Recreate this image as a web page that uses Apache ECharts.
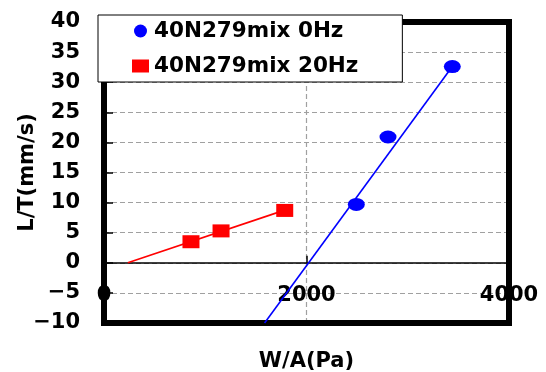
<!DOCTYPE html>
<html>
<head>
<meta charset="utf-8">
<script src="https://cdn.jsdelivr.net/npm/echarts@6/dist/echarts.min.js"></script>
<style>html,body{margin:0;padding:0;background:#fff}#c{width:546px;height:372px}</style>
</head>
<body>
<div id="c"></div>
<script>
var seriesNames = ['40N279mix 0Hz', '40N279mix 20Hz'];
var x0Hz = [2492, 2805, 3440];
var y0Hz = [9.7, 20.9, 32.6];
var x20Hz = [859, 1156, 1785];
var y20Hz = [3.5, 5.3, 8.7];
var trend0X = [1586, 3440];
var trend0Y = [-10, 32.6];
var trend20X = [235, 1785];
var trend20Y = [0, 8.75];
var xTicks = [0, 2000, 4000];
var yTicks = [-10, -5, 0, 5, 10, 15, 20, 25, 30, 35, 40];

function pairs(xs, ys) { return xs.map(function (x, i) { return [x, ys[i]]; }); }

var FONT = 'DejaVu Sans';
var XMIN = xTicks[0], XMAX = xTicks[xTicks.length - 1];
var YMIN = yTicks[0], YMAX = yTicks[yTicks.length - 1];
var frameLine = { show: true, onZero: false, lineStyle: { color: '#000', width: 6, cap: 'square' } };
function frameX(pos) {
  return { type: 'value', min: XMIN, max: XMAX, interval: 2000, position: pos,
    axisLine: frameLine, axisTick: { show: false }, axisLabel: { show: false }, splitLine: { show: false } };
}
var chart = echarts.init(document.getElementById('c'), null, { renderer: 'canvas' });
chart.setOption({
  animation: false,
  backgroundColor: '#fff',
  textStyle: { fontFamily: FONT },
  grid: {
    left: 104, right: 37, top: 22, bottom: 49,
    containLabel: false, outerBoundsMode: 'none', show: false
  },
  legend: {
    data: seriesNames,
    orient: 'vertical',
    left: 98, top: 15,
    padding: [5, 44, 5, 34],
    itemWidth: 17, itemHeight: 13, itemGap: 13,
    symbolKeepAspect: false,
    backgroundColor: '#fff', borderColor: '#000', borderWidth: 1,
    textStyle: { fontFamily: FONT, fontWeight: 'bold', fontSize: 21.5, color: '#000' },
    z: 10
  },
  xAxis: [{
    type: 'value', min: XMIN, max: XMAX, interval: 2000,
    name: 'W/A(Pa)', nameLocation: 'middle', nameGap: 28, nameMoveOverlap: false,
    nameTextStyle: { fontFamily: FONT, fontWeight: 'bold', fontSize: 21, color: '#000' },
    axisLine: { onZero: true, lineStyle: { color: '#000', width: 1.5 } },
    axisTick: { inside: true, length: 7, lineStyle: { color: '#000', width: 1.5 } },
    axisLabel: {
      margin: -38, fontFamily: FONT, fontWeight: 'bold', fontSize: 21, color: '#000',
      formatter: function (v) { return String(v); }
    },
    splitLine: { show: true, lineStyle: { color: '#a0a0a0', width: 1.2, type: [5, 3] } }
  }, frameX('top'), frameX('bottom')],
  yAxis: [{
    type: 'value', min: YMIN, max: YMAX, interval: 5,
    name: 'L/T(mm/s)', nameLocation: 'middle', nameGap: 66, nameMoveOverlap: false,
    nameTextStyle: { fontFamily: FONT, fontWeight: 'bold', fontSize: 21, color: '#000' },
    axisLine: frameLine,
    axisTick: { show: true, inside: true, length: 9, lineStyle: { color: '#000', width: 1.5 } },
    axisLabel: {
      margin: 24, fontFamily: FONT, fontWeight: 'bold', fontSize: 21, color: '#000',
      formatter: function (v) { return String(v).replace('-', '\u2212'); }
    },
    splitLine: { show: true, lineStyle: { color: '#a0a0a0', width: 1.2, type: [5, 3] } }
  }, {
    type: 'value', min: YMIN, max: YMAX, interval: 5, position: 'right',
    axisLine: frameLine, axisTick: { show: false }, axisLabel: { show: false }, splitLine: { show: false }
  }],
  series: [
    {
      name: seriesNames[0] + ' trend', type: 'line', data: pairs(trend0X, trend0Y),
      showSymbol: false, symbol: 'none', lineStyle: { color: '#0000ff', width: 1.6 }, z: 3
    },
    {
      name: seriesNames[1] + ' trend', type: 'line', data: pairs(trend20X, trend20Y),
      showSymbol: false, symbol: 'none', lineStyle: { color: '#ff0000', width: 1.6 }, z: 3
    },
    {
      name: seriesNames[0], type: 'scatter', data: pairs(x0Hz, y0Hz),
      symbol: 'circle', symbolSize: [17, 13], itemStyle: { color: '#0000ff', opacity: 1 }, z: 4
    },
    {
      name: seriesNames[1], type: 'scatter', data: pairs(x20Hz, y20Hz),
      symbol: 'rect', symbolSize: [17, 13], itemStyle: { color: '#ff0000', opacity: 1 }, z: 4
    }
  ]
});
</script>
</body>
</html>
